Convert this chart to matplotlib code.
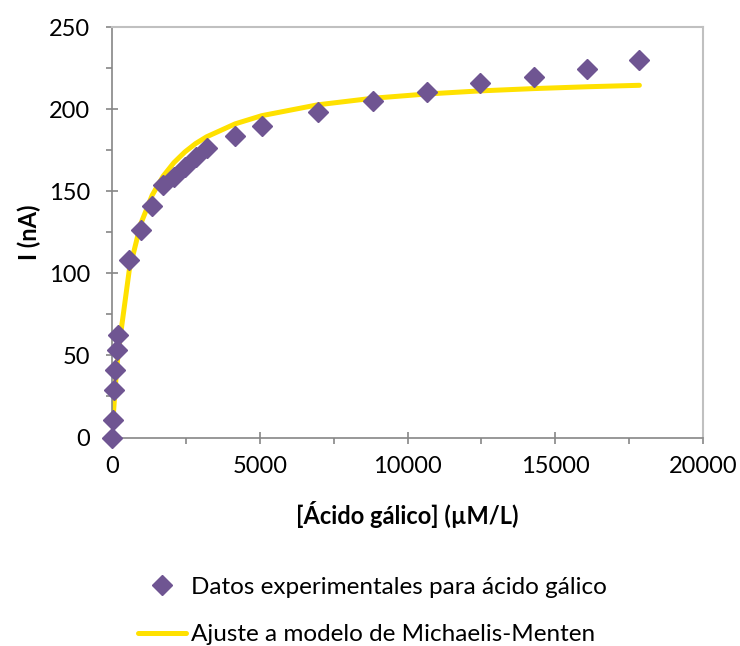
import matplotlib
matplotlib.use('Agg')
import matplotlib.pyplot as plt
from matplotlib.ticker import MultipleLocator

plt.rcParams['font.family'] = ['Lato', 'DejaVu Sans']

conc = [0, 45, 78, 111, 159, 213, 584, 970, 1361, 1733, 2095, 2466, 2828, 3199,
        4166, 5068, 6959, 8818, 10652, 12466, 14291, 16071, 17848]
corriente = [0, 10.8, 29.2, 41.4, 53.2, 62.4, 108.2, 126.1, 141.2, 153.6, 158.7,
             164.6, 170.7, 176.5, 183.6, 189.7, 198.2, 204.8, 210.3, 216.0, 219.3,
             224.5, 229.8]

# Curva de ajuste Michaelis-Menten
ajuste = [0, 13.6, 22.5, 30.8, 41.6, 52.4, 101.9, 130.0, 147.6, 159.2, 167.4,
          173.9, 179.0, 183.1, 191.0, 196.0, 202.6, 206.6, 209.2, 211.1, 212.5,
          213.6, 214.5]

fig = plt.figure(figsize=(7.4, 6.46), dpi=100)
ax = fig.add_axes([112 / 740, 1 - 437.5 / 646, (703 - 112) / 740, (437.5 - 27) / 646])

ax.plot(conc, ajuste, color='#FFE100', linewidth=3.6, solid_capstyle='round',
        label='Ajuste a modelo de Michaelis-Menten', zorder=2)
ax.plot(conc, corriente, linestyle='none', marker='D', markersize=10,
        color='#6F5592', label='Datos experimentales para ácido gálico',
        zorder=3, clip_on=False)

ax.set_xlim(0, 20000)
ax.set_ylim(0, 250)
ax.xaxis.set_major_locator(MultipleLocator(5000))
ax.xaxis.set_minor_locator(MultipleLocator(2500))
ax.yaxis.set_major_locator(MultipleLocator(50))
ax.yaxis.set_minor_locator(MultipleLocator(25))

# Ejes estilo Excel
for s in ['left', 'bottom']:
    ax.spines[s].set_color('#868686')
    ax.spines[s].set_linewidth(1.2)
for s in ['top', 'right']:
    ax.spines[s].set_color('#C0C0C0')
    ax.spines[s].set_linewidth(1.5)

ax.tick_params(which='major', direction='inout', length=9, width=1.2,
               color='#868686', labelsize=17, pad=9)
ax.tick_params(which='minor', direction='out', length=4.5, width=1.2,
               color='#868686')
ax.tick_params(axis='y', which='major', pad=11)

ax.set_xlabel('[Ácido gálico] (µM/L)', fontsize=17, fontweight='bold')
ax.set_ylabel('I (nA)', fontsize=17, fontweight='bold')
ax.xaxis.set_label_coords(0.5, -0.155)
ax.yaxis.set_label_coords(-0.12, 0.5)

handles, labels = ax.get_legend_handles_labels()
fig.legend(handles[::-1], labels[::-1], loc='center left',
           bbox_to_anchor=(116 / 740, 1 - 611 / 646), frameon=False,
           fontsize=17.5, handlelength=2.0, handletextpad=0.2, labelspacing=1.1)

fig.savefig('out.png', dpi=100)
